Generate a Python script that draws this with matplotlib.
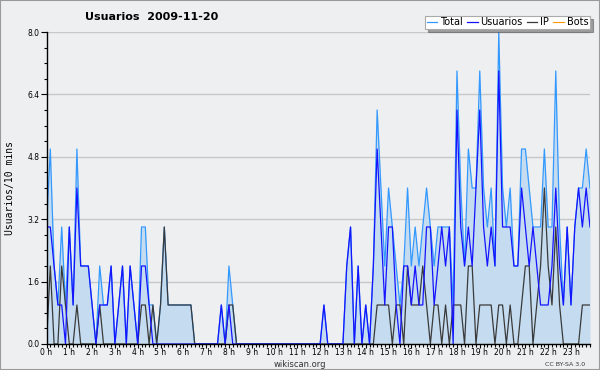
import matplotlib
matplotlib.use('Agg')
import matplotlib.pyplot as plt
from matplotlib.ticker import MultipleLocator, FixedLocator, FixedFormatter, FormatStrFormatter
from matplotlib.patches import Rectangle

total = [3, 5, 2, 1, 3, 1, 3, 1, 5, 2, 2, 2, 1, 0, 2, 1, 1, 2, 0, 1,
         2, 0, 2, 1, 0, 3, 3, 1, 1, 0, 1, 3, 1, 1, 1, 1, 1, 1, 1, 0,
         0, 0, 0, 0, 0, 0, 1, 0, 2, 1, 0, 0, 0, 0, 0, 0, 0, 0, 0, 0,
         0, 0, 0, 0, 0, 0, 0, 0, 0, 0, 0, 0, 0, 1, 0, 0, 0, 0, 0, 2,
         3, 0, 2, 0, 1, 0, 2, 6, 4, 2, 4, 3, 2, 1, 2, 4, 2, 3, 2, 3,
         4, 3, 2, 3, 3, 3, 3, 1, 7, 4, 2, 5, 4, 4, 7, 4, 3, 4, 2, 8,
         4, 3, 4, 2, 2, 5, 5, 4, 3, 3, 3, 5, 3, 3, 7, 3, 1, 3, 1, 3,
         4, 4, 5, 4]
usuarios = [3, 3, 2, 1, 1, 0, 3, 1, 4, 2, 2, 2, 1, 0, 1, 1, 1, 2, 0, 1,
            2, 0, 2, 1, 0, 2, 2, 1, 0, 0, 0, 0, 0, 0, 0, 0, 0, 0, 0, 0,
            0, 0, 0, 0, 0, 0, 1, 0, 1, 0, 0, 0, 0, 0, 0, 0, 0, 0, 0, 0,
            0, 0, 0, 0, 0, 0, 0, 0, 0, 0, 0, 0, 0, 1, 0, 0, 0, 0, 0, 2,
            3, 0, 2, 0, 1, 0, 2, 5, 3, 1, 3, 3, 1, 0, 2, 2, 1, 2, 1, 1,
            3, 3, 1, 2, 3, 2, 3, 0, 6, 3, 2, 3, 2, 4, 6, 3, 2, 3, 2, 7,
            3, 3, 3, 2, 2, 4, 3, 2, 3, 2, 1, 1, 1, 2, 4, 2, 1, 3, 1, 3,
            4, 3, 4, 3]
ip = [0, 2, 0, 0, 2, 1, 0, 0, 1, 0, 0, 0, 0, 0, 1, 0, 0, 0, 0, 0,
      0, 0, 0, 0, 0, 1, 1, 0, 1, 0, 1, 3, 1, 1, 1, 1, 1, 1, 1, 0,
      0, 0, 0, 0, 0, 0, 0, 0, 1, 1, 0, 0, 0, 0, 0, 0, 0, 0, 0, 0,
      0, 0, 0, 0, 0, 0, 0, 0, 0, 0, 0, 0, 0, 0, 0, 0, 0, 0, 0, 0,
      0, 0, 0, 0, 0, 0, 0, 1, 1, 1, 1, 0, 1, 1, 0, 2, 1, 1, 1, 2,
      1, 0, 1, 1, 0, 1, 0, 1, 1, 1, 0, 2, 2, 0, 1, 1, 1, 1, 0, 1,
      1, 0, 1, 0, 0, 1, 2, 2, 0, 1, 2, 4, 2, 1, 3, 1, 0, 0, 0, 0,
      0, 1, 1, 1]
bots = [0] * 144
hour_labels = ['%d h' % h for h in range(24)]
series_names = ['Total', 'Usuarios', 'IP', 'Bots']

c_total = '#3399ff'
c_fill = '#c5dcf0'
c_user = '#1414ff'
c_ip = '#3a3a3a'
c_bots = '#ff9900'
bg = '#eeeff1'

x = list(range(len(total)))

fig = plt.figure(figsize=(6, 3.7), dpi=100, facecolor=bg)
ax = fig.add_axes([0.0775, 0.0703, 0.9058, 0.8432])
ax.set_facecolor(bg)

ax.fill_between(x, 0, total, color=c_fill, lw=0, zorder=1)
lb, = ax.plot(x, bots, color=c_bots, lw=0.8, zorder=1.5)
lt, = ax.plot(x, total, color=c_total, lw=0.9, zorder=2)
li, = ax.plot(x, ip, color=c_ip, lw=0.9, zorder=2.1)
lu, = ax.plot(x, usuarios, color=c_user, lw=0.9, zorder=2.2)

ax.set_xlim(0, len(total) - 1)
ax.set_ylim(0, 8.0)

ax.yaxis.set_major_locator(MultipleLocator(1.6))
ax.yaxis.set_minor_locator(MultipleLocator(0.4))
ax.yaxis.set_major_formatter(FormatStrFormatter('%.1f'))
ax.xaxis.set_major_locator(FixedLocator([6 * h for h in range(24)]))
ax.xaxis.set_major_formatter(FixedFormatter(hour_labels))
ax.xaxis.set_minor_locator(MultipleLocator(1))

ax.tick_params(axis='y', which='major', direction='out', length=4, width=0.8,
               labelsize=5.5, pad=1, color='black')
ax.tick_params(axis='x', which='major', direction='out', length=3, width=0.8,
               labelsize=5.5, pad=0, color='black')
ax.tick_params(axis='both', which='minor', direction='out', length=2.5, width=0.8,
               color='black')
ax.grid(axis='y', which='major', color='#c8c8c8', lw=1)
ax.set_axisbelow(True)
for s in ['top', 'right']:
    ax.spines[s].set_visible(False)
for s in ['left', 'bottom']:
    ax.spines[s].set_color('black')
    ax.spines[s].set_linewidth(1)
    ax.spines[s].set_zorder(3)

fig.text(0.2525, 0.954, 'Usuarios  2009-11-20', ha='center', va='center',
         fontsize=8, fontweight='bold')
fig.text(0.017, 0.492, 'Usuarios/10 mins', rotation=90, ha='center', va='center',
         fontsize=7, family='DejaVu Sans Mono')
fig.text(0.5, 0.016, 'wikiscan.org', ha='center', va='center', fontsize=6, color='#333333')
fig.text(0.975, 0.016, 'CC BY-SA 3.0', ha='right', va='center', fontsize=4.5, color='#333333')

leg = fig.legend([lt, lu, li, lb], series_names, loc='upper right',
                 bbox_to_anchor=(0.983, 0.957), ncol=4, fontsize=7,
                 frameon=True, fancybox=False, shadow=True, edgecolor='#aaaaaa',
                 handlelength=1.1, columnspacing=0.4, handletextpad=0.3,
                 borderpad=0.15, borderaxespad=0)
leg.get_frame().set_facecolor('white')
leg.get_frame().set_linewidth(0.8)

fig.patches.append(Rectangle((0, 0), 1, 1, transform=fig.transFigure, fill=False,
                             edgecolor='#9a9a9a', lw=1.5))

fig.savefig('out.png', dpi=100, facecolor=bg)
